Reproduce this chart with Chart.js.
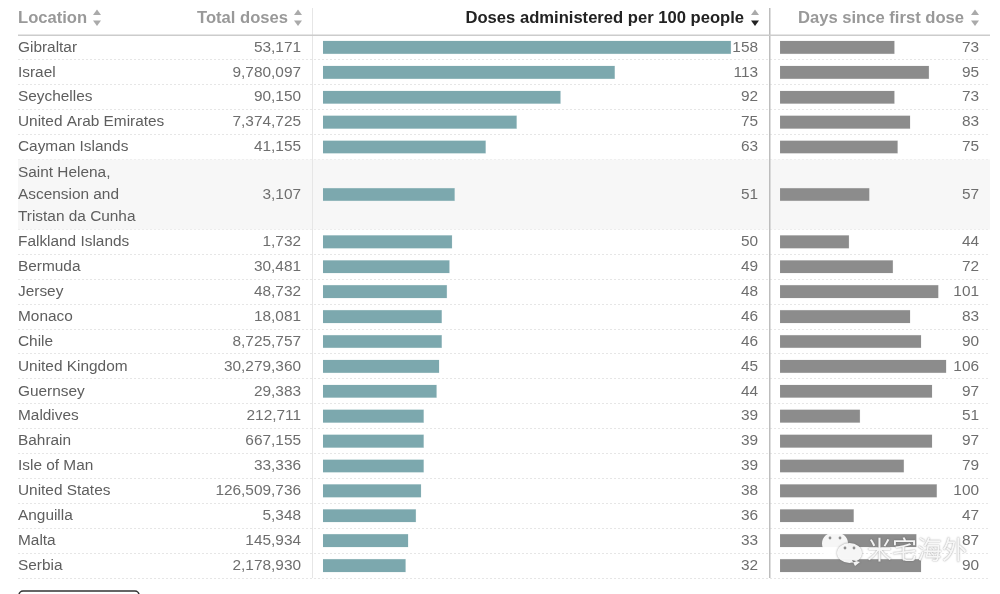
<!DOCTYPE html>
<html>
<head>
<meta charset="utf-8">
<style>
  html, body { margin: 0; padding: 0; background: #fff; }
  canvas { display: block; }
</style>
<script src="https://cdn.jsdelivr.net/npm/chart.js@4/dist/chart.umd.min.js"></script>
</head>
<body>
<canvas id="myChart" width="1000" height="594"></canvas>
<script>
const locations = [
    ['Gibraltar'], ['Israel'], ['Seychelles'], ['United Arab Emirates'], ['Cayman Islands'],
    ['Saint Helena,', 'Ascension and', 'Tristan da Cunha'],
    ['Falkland Islands'], ['Bermuda'], ['Jersey'], ['Monaco'], ['Chile'], ['United Kingdom'],
    ['Guernsey'], ['Maldives'], ['Bahrain'], ['Isle of Man'], ['United States'], ['Anguilla'],
    ['Malta'], ['Serbia']
];
const totalDoses = [
    '53,171', '9,780,097', '90,150', '7,374,725', '41,155', '3,107', '1,732', '30,481', '48,732', '18,081',
    '8,725,757', '30,279,360', '29,383', '212,711', '667,155', '33,336', '126,509,736', '5,348', '145,934', '2,178,930'
];
const dosesPer100 = [158, 113, 92, 75, 63, 51, 50, 49, 48, 46, 46, 45, 44, 39, 39, 39, 38, 36, 33, 32];
const daysSinceFirst = [73, 95, 73, 83, 75, 57, 44, 72, 101, 83, 90, 106, 97, 51, 97, 79, 100, 47, 87, 90];

const FONT = '"Liberation Sans", Arial, sans-serif';

// row tops in row units, the wrapped row is taller than the others
const rowSize = locations.map(l => l.length > 1 ? 2.81 : 1);
const rowEdges = [0];
rowSize.forEach(s => rowEdges.push(rowEdges[rowEdges.length - 1] + s));
const rowCenter = rowSize.map((s, i) => rowEdges[i] + s / 2);

function triangle(ctx, x, y, up, color) {
    ctx.fillStyle = color;
    ctx.beginPath();
    ctx.moveTo(x - 4, up ? y + 5.5 : y);
    ctx.lineTo(x + 4, up ? y + 5.5 : y);
    ctx.lineTo(x, up ? y : y + 5.5);
    ctx.fill();
}

function bubble(ctx, x, y, rx, ry, tailX, tailDir) {
    ctx.beginPath();
    ctx.ellipse(x, y, rx, ry, 0, 0, Math.PI * 2);
    ctx.moveTo(tailX, y + ry - 3);
    ctx.lineTo(tailX + tailDir * 3, y + ry + 3);
    ctx.lineTo(tailX + tailDir * 8, y + ry - 1);
    ctx.fill();
}

const tableText = {
    id: 'tableText',
    beforeDatasetsDraw(chart) {
        const { ctx, scales: { y } } = chart;
        ctx.save();
        // shaded wrapped row
        const tall = rowSize.findIndex(s => s > 1);
        ctx.fillStyle = '#f7f7f7';
        const t = y.getPixelForValue(rowEdges[tall]);
        ctx.fillRect(18, t, 972, y.getPixelForValue(rowEdges[tall + 1]) - t);
        ctx.restore();
    },
    afterDatasetsDraw(chart) {
        const { ctx, scales: { y } } = chart;
        ctx.save();

        // column rules
        ctx.fillStyle = '#e6e6e6';
        ctx.fillRect(312, 8, 1, 570);
        ctx.fillStyle = '#bdbdbd';
        ctx.fillRect(769, 8, 1.5, 570);
        ctx.fillStyle = '#cccccc';
        ctx.fillRect(18, 34.5, 972, 1.5);

        // header
        ctx.textBaseline = 'middle';
        ctx.font = 'bold 16.6px ' + FONT;
        ctx.fillStyle = '#999999';
        ctx.textAlign = 'left';
        ctx.fillText('Location', 18, 18);
        ctx.textAlign = 'right';
        ctx.fillText('Total doses', 288, 18);
        ctx.fillText('Days since first dose', 964, 18);
        ctx.fillStyle = '#222222';
        ctx.fillText('Doses administered per 100 people', 744, 18);

        [[97, false], [298, false], [755, true], [975, false]].forEach(([x, active]) => {
            triangle(ctx, x, 9.5, true, '#aaaaaa');
            triangle(ctx, x, 20.5, false, active ? '#222222' : '#aaaaaa');
        });

        // rows
        ctx.font = '15.4px ' + FONT;
        locations.forEach((lines, i) => {
            const cy = y.getPixelForValue(rowCenter[i]);
            ctx.textAlign = 'left';
            ctx.fillStyle = '#5e5e5e';
            lines.forEach((line, k) => {
                ctx.fillText(line, 18, cy + (k - (lines.length - 1) / 2) * 22);
            });
            ctx.textAlign = 'right';
            ctx.fillStyle = '#6e6e6e';
            ctx.fillText(totalDoses[i], 301, cy);
            ctx.fillText(String(dosesPer100[i]), 758, cy);
            ctx.fillText(String(daysSinceFirst[i]), 979, cy);
        });

        // "show more" button cut off by the picture edge
        ctx.strokeStyle = '#333333';
        ctx.lineWidth = 1.5;
        ctx.beginPath();
        ctx.roundRect(19, 591, 120, 20, 4);
        ctx.stroke();

        // watermark
        ctx.fillStyle = 'rgba(255,255,255,0.92)';
        bubble(ctx, 835, 543.5, 13, 11.5, 829, -1);
        ctx.shadowColor = 'rgba(90,90,90,0.7)';
        ctx.shadowBlur = 2;
        bubble(ctx, 849.5, 553, 12.5, 10, 852, 1);
        ctx.shadowBlur = 0;
        ctx.fillStyle = '#8f8f8f';
        [[830, 538], [840, 538], [845, 548], [854, 548]].forEach(([ex, ey]) => {
            ctx.beginPath();
            ctx.arc(ex, ey, 1.4, 0, Math.PI * 2);
            ctx.fill();
        });
        ctx.font = '25px "Noto Sans CJK SC"';
        ctx.textAlign = 'left';
        ctx.fillStyle = 'rgba(255,255,255,0.92)';
        ctx.shadowColor = 'rgba(60,60,60,0.7)';
        ctx.shadowBlur = 1.5;
        ctx.fillText('米宅海外', 867, 549);

        ctx.restore();
    }
};

const ctx = document.getElementById('myChart');

new Chart(ctx, {
    type: 'bar',
    data: {
        datasets: [{
            label: 'Doses administered per 100 people',
            data: dosesPer100.map((v, i) => ({ x: v, y: rowCenter[i] })),
            xAxisID: 'xDoses',
            backgroundColor: '#7ca8ae',
            borderColor: '#d3e2e4',
            borderWidth: 0.5
        }, {
            label: 'Days since first dose',
            data: daysSinceFirst.map((v, i) => ({ x: v, y: rowCenter[i] })),
            xAxisID: 'xDays',
            backgroundColor: '#8c8c8c',
            borderColor: '#dddddd',
            borderWidth: 0.5
        }]
    },
    options: {
        indexAxis: 'y',
        responsive: false,
        animation: false,
        grouped: false,
        barThickness: 13,
        layout: { padding: { left: 18, right: 10, top: 35, bottom: 16 } },
        plugins: { legend: { display: false }, tooltip: { enabled: false } },
        scales: {
            // both value axes share the plot area, their ranges put each zero under its own column
            xDoses: { type: 'linear', display: false, min: -118.1, max: 258.3 },
            xDays: { type: 'linear', display: false, min: -486, max: 133.9 },
            y: {
                type: 'linear',
                reverse: true,
                offset: false,
                min: 0,
                max: rowEdges[rowEdges.length - 1],
                afterBuildTicks: axis => { axis.ticks = rowEdges.slice(1).map(v => ({ value: v })); },
                ticks: { display: false },
                border: { display: false, dash: [2, 2] },
                grid: { offset: false, color: '#e6e6e6', lineWidth: 1, drawTicks: false }
            }
        }
    },
    plugins: [tableText]
});
</script>
</body>
</html>
